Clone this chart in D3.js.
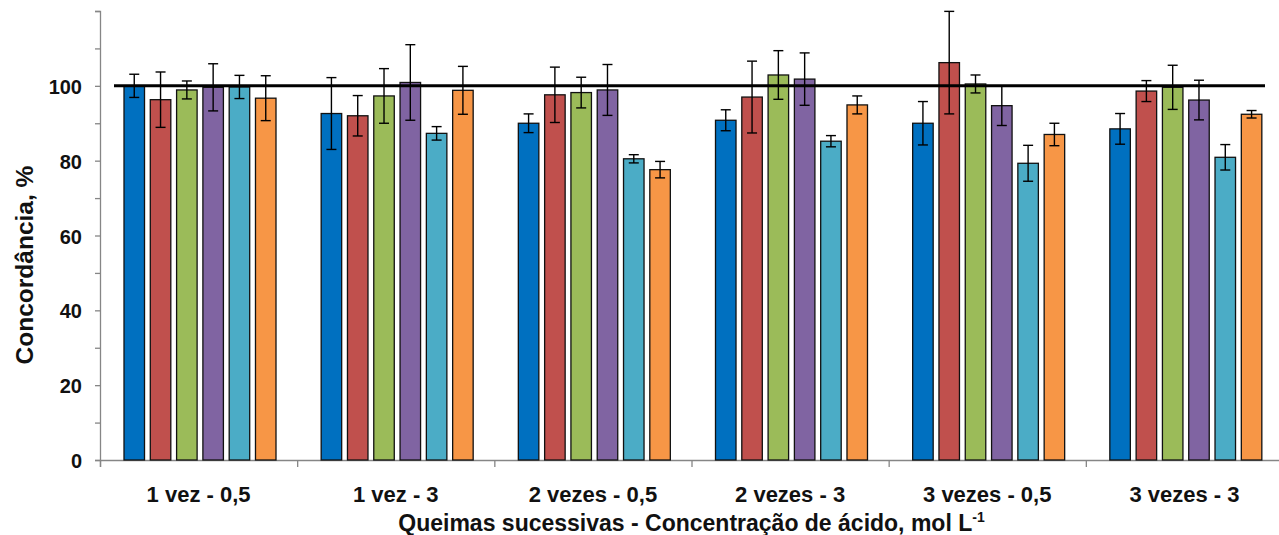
<!DOCTYPE html>
<html lang="pt">
<head>
<meta charset="UTF-8">
<title>Concordância</title>
<script src="https://d3js.org/d3.v7.min.js"></script>
<style>
  body { margin: 0; background: #fff; }
  text { font-family: "Liberation Sans", Arial, sans-serif; font-weight: bold; fill: #111; }
</style>
</head>
<body>
<script>

const categories = ["1 vez - 0,5", "1 vez - 3", "2 vezes - 0,5", "2 vezes - 3", "3 vezes - 0,5", "3 vezes - 3"];
const seriesNames = ["s1", "s2", "s3", "s4", "s5", "s6"];
const colors = ["#0070C0", "#C0504D", "#9BBB59", "#8064A2", "#4BACC6", "#F79646"];

// mean values per series, one entry per category
const s1 = [100.0, 92.6, 90.0, 90.8, 90.0, 88.5];
const s2 = [96.3, 92.0, 97.6, 97.0, 106.2, 98.6];
const s3 = [98.9, 97.3, 98.2, 102.9, 100.5, 99.6];
const s4 = [99.6, 100.9, 98.9, 101.8, 94.7, 96.2];
const s5 = [99.7, 87.3, 80.5, 85.2, 79.3, 80.9];
const s6 = [96.7, 98.8, 77.6, 94.9, 87.0, 92.4];

// error bar half-widths
const e1 = [3.1, 9.6, 2.5, 2.8, 5.8, 4.1];
const e2 = [7.4, 5.4, 7.4, 9.6, 13.7, 2.8];
const e3 = [2.4, 7.3, 4.1, 6.5, 2.4, 5.9];
const e4 = [6.3, 10.1, 6.8, 7.0, 5.3, 5.3];
const e5 = [3.1, 1.8, 1.1, 1.5, 4.8, 3.4];
const e6 = [6.0, 6.4, 2.2, 2.4, 3.0, 1.0];

const yTicks = [0, 10, 20, 30, 40, 50, 60, 70, 80, 90, 100, 110, 120];
const refValue = 100;

const values = [s1, s2, s3, s4, s5, s6];
const errors = [e1, e2, e3, e4, e5, e6];

const w = 1279, h = 535;
const padL = 100, padR = 1283, padT = 11, padB = 460;

const svg = d3.select("body").append("svg")
  .attr("width", w).attr("height", h);

const x0 = d3.scaleBand().domain(categories).range([padL, padR]);
const x1 = d3.scaleBand().domain(seriesNames).range([24, 176]).paddingInner(0.22);
const y = d3.scaleLinear().domain([0, 120]).range([padB, padT]);

// flatten data
const rows = [];
categories.forEach((c, ci) => {
  seriesNames.forEach((s, si) => {
    rows.push({ cat: c, ser: s, si: si, v: values[si][ci], e: errors[si][ci] });
  });
});

// y axis
const yAxis = d3.axisLeft(y)
  .tickValues(yTicks)
  .tickSize(5)
  .tickPadding(13)
  .tickFormat(d => (d % 20 === 0 && d <= 100) ? d : "");
const gy = svg.append("g").attr("transform", "translate(" + padL + ",0)").call(yAxis);
gy.select(".domain").attr("stroke", "#868686").attr("stroke-width", 1.3);
gy.selectAll(".tick line").attr("stroke", "#868686").attr("stroke-width", 1.3);
gy.selectAll(".tick text").style("font-size", "20px").attr("fill", "#111").attr("dy", "0.38em");

// x axis: labels centred, ticks at group edges
const xIdx = d3.scaleLinear().domain([0, categories.length]).range([padL, padR]);
const gxt = svg.append("g").attr("transform", "translate(0," + padB + ")")
  .call(d3.axisBottom(xIdx).tickValues(d3.range(0, categories.length + 1)).tickSize(7).tickFormat(""));
gxt.select(".domain").attr("stroke", "#868686").attr("stroke-width", 1.3);
gxt.selectAll(".tick line").attr("stroke", "#868686").attr("stroke-width", 1.3);

const gx = svg.append("g").attr("transform", "translate(0," + padB + ")")
  .call(d3.axisBottom(x0).tickSize(0).tickPadding(26));
gx.select(".domain").remove();
gx.selectAll(".tick text").style("font-size", "22px").attr("fill", "#111");

// bars
svg.append("g").selectAll("rect")
  .data(rows)
  .enter()
  .append("rect")
  .attr("x", d => x0(d.cat) + x1(d.ser))
  .attr("y", d => y(d.v))
  .attr("width", x1.bandwidth())
  .attr("height", d => y(0) - y(d.v))
  .attr("fill", d => colors[d.si])
  .attr("stroke", "#111")
  .attr("stroke-width", 1.3);

// reference line at 100
svg.append("line")
  .attr("x1", padL + 14).attr("x2", 1265)
  .attr("y1", y(refValue)).attr("y2", y(refValue))
  .attr("stroke", "#000").attr("stroke-width", 3);

// error bars
const eb = svg.append("g").selectAll("g")
  .data(rows)
  .enter()
  .append("g")
  .attr("stroke", "#000")
  .attr("stroke-width", 1.4);
const cx = d => x0(d.cat) + x1(d.ser) + x1.bandwidth() / 2;
eb.append("line")
  .attr("x1", cx).attr("x2", cx)
  .attr("y1", d => y(d.v + d.e)).attr("y2", d => y(d.v - d.e));
eb.append("line")
  .attr("x1", d => cx(d) - 5).attr("x2", d => cx(d) + 5)
  .attr("y1", d => y(d.v + d.e)).attr("y2", d => y(d.v + d.e));
eb.append("line")
  .attr("x1", d => cx(d) - 5).attr("x2", d => cx(d) + 5)
  .attr("y1", d => y(d.v - d.e)).attr("y2", d => y(d.v - d.e));

// axis titles
const xt = svg.append("text")
  .attr("x", (padL + padR) / 2)
  .attr("y", 531)
  .attr("text-anchor", "middle")
  .style("font-size", "23px");
xt.append("tspan").text("Queimas sucessivas - Concentração de ácido, mol L");
xt.append("tspan").text("-1").attr("dy", -9).style("font-size", "14px");

svg.append("text")
  .attr("transform", "translate(33,265) rotate(-90)")
  .attr("text-anchor", "middle")
  .style("font-size", "24.5px")
  .text("Concordância, %");

</script>
</body>
</html>
